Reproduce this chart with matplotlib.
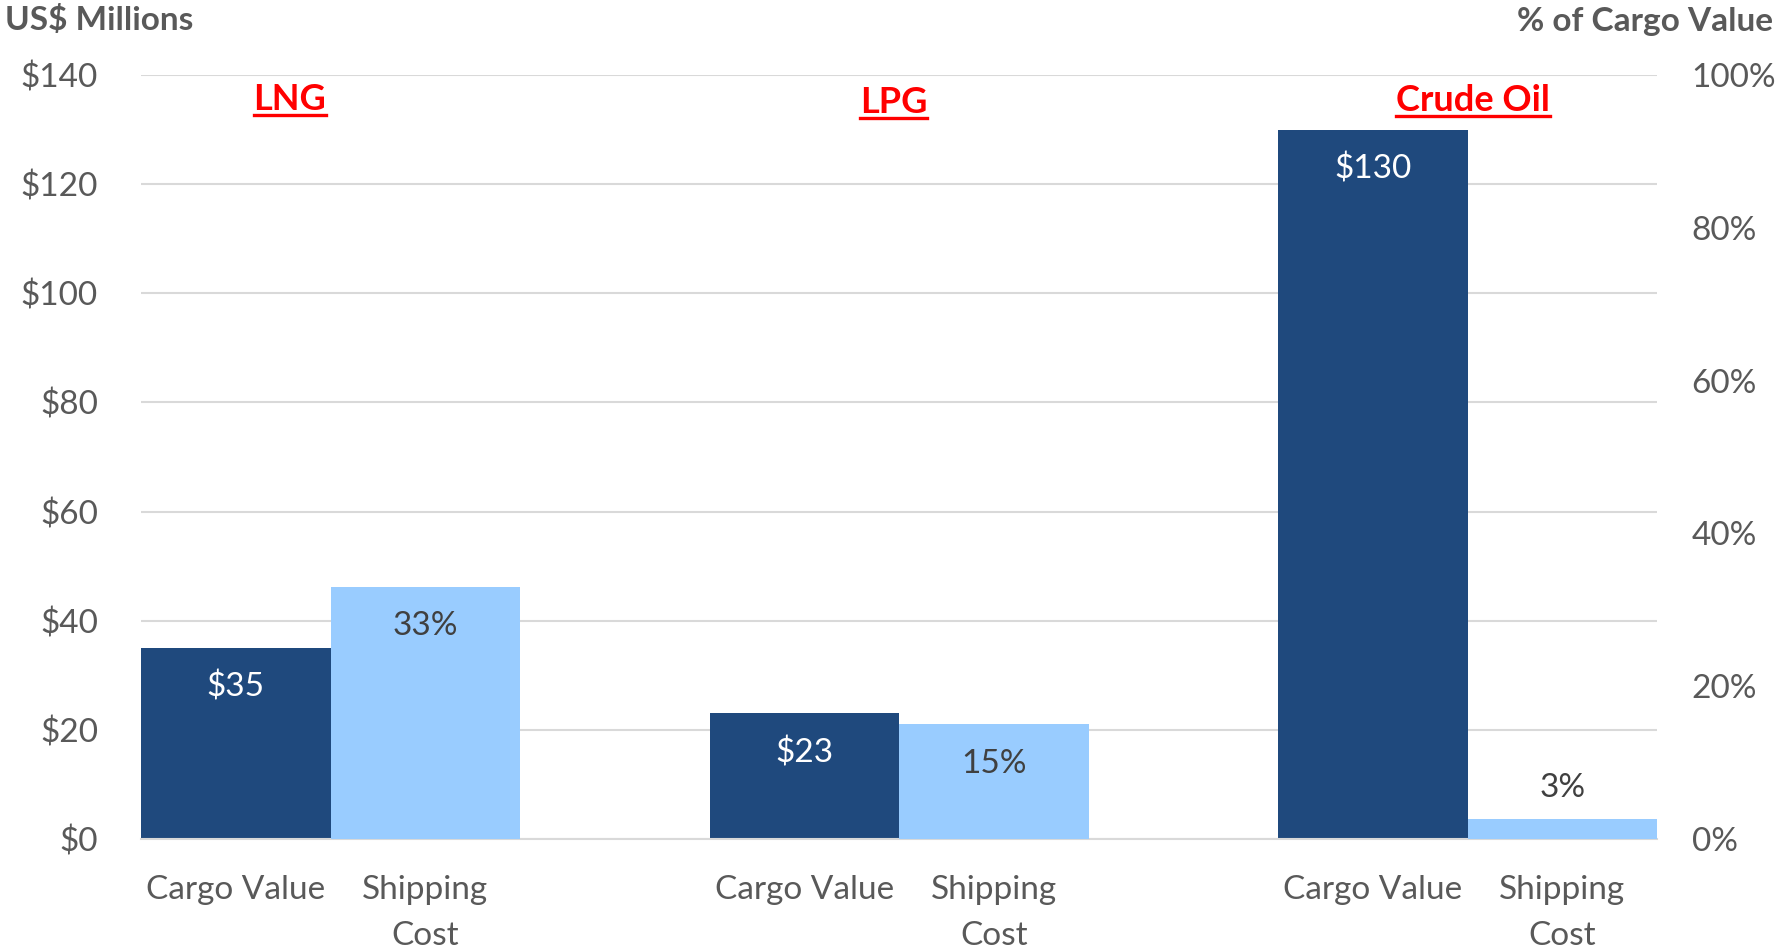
import matplotlib
matplotlib.use("Agg")
import matplotlib.pyplot as plt
from matplotlib.ticker import FuncFormatter

# ---- data ----
categories = ["Cargo Value", "Shipping\nCost", "", "Cargo Value", "Shipping\nCost", "",
              "Cargo Value", "Shipping\nCost"]
groups = ["LNG", "LPG", "Crude Oil"]
cargo_value = [35, 23, 130]          # US$ millions
shipping_pct = [33, 15, 2.6]         # % of cargo value
left_ticks = [0, 20, 40, 60, 80, 100, 120, 140]
right_ticks = [0, 20, 40, 60, 80, 100]

FONT = "Lato"
plt.rcParams['font.family'] = [FONT, 'DejaVu Sans']

DARK = "#1F497D"
LIGHT = "#99CCFF"
GRID = "#D9D9D9"
TXT = "#595959"

W, H = 1784, 949
fig = plt.figure(figsize=(W / 100, H / 100), dpi=100)
ax = fig.add_axes([141 / W, 1 - 839 / H, (1657 - 141) / W, (839 - 75) / H])
ax2 = ax.twinx()

cargo_x = [3 * i for i in range(len(groups))]
ship_x = [3 * i + 1 for i in range(len(groups))]

ax.bar(cargo_x, cargo_value, width=1.0, color=DARK, zorder=2)
ax2.bar(ship_x, shipping_pct, width=1.0, color=LIGHT, zorder=2)

ax.set_xlim(-0.5, len(categories) - 0.5)
ax.set_ylim(0, 140)
ax2.set_ylim(0, 100)
ax.set_yticks(left_ticks)
ax2.set_yticks(right_ticks)
ax.yaxis.set_major_formatter(FuncFormatter(lambda v, p: f"${v:.0f}"))
ax2.yaxis.set_major_formatter(FuncFormatter(lambda v, p: f"{v:.0f}%"))
ax.set_xticks(range(len(categories)))
ax.set_xticklabels(categories, linespacing=1.68)

ax.set_axisbelow(True)
ax.grid(axis='y', color=GRID, linewidth=1.5, zorder=0)
ax.grid(axis='x', visible=False)
for s in ['top', 'left', 'right']:
    ax.spines[s].set_visible(False)
    ax2.spines[s].set_visible(False)
ax2.spines['bottom'].set_visible(False)
ax.spines['bottom'].set_color(GRID)
ax.spines['bottom'].set_linewidth(1.5)

fs = 24
ax.tick_params(axis='y', length=0, pad=31, labelsize=fs, labelcolor=TXT)
ax.tick_params(axis='x', length=0, pad=26, labelsize=fs, labelcolor=TXT)
ax2.tick_params(axis='y', length=0, pad=25, labelsize=fs, labelcolor=TXT)

# data labels
for x, v in zip(cargo_x, cargo_value):
    ax.annotate(f"${v:.0f}", (x, v), xytext=(0, -35), textcoords='offset points',
                ha='center', va='baseline', color='white', fontsize=fs)
for x, v in zip(ship_x, shipping_pct):
    if v > 8:
        ax2.annotate(f"{v:.0f}%", (x, v), xytext=(0, -35), textcoords='offset points',
                     ha='center', va='baseline', color='#404040', fontsize=fs)
    else:
        ax2.annotate(f"{v:.0f}%", (x, v), xytext=(0, 16), textcoords='offset points',
                     ha='center', va='baseline', color='#404040', fontsize=fs)

# group titles (red, bold, underlined)
title_x = [0.286, 3.47, 6.53]
title_y = [133.6, 133.0, 133.4]
fig.canvas.draw()
inv = fig.transFigure.inverted()
for gx, gy, g in zip(title_x, title_y, groups):
    t = ax.text(gx, gy, g, ha='center', va='baseline', color='red',
                fontsize=26, fontweight='bold', zorder=5)
    bb = t.get_window_extent(renderer=fig.canvas.get_renderer())
    (fx0, _), (fx1, _) = inv.transform([(bb.x0, 0), (bb.x1, 0)])
    base_disp = ax.transData.transform((gx, gy))[1]
    fy = inv.transform((0, base_disp - 5))[1]
    fig.add_artist(plt.Line2D([fx0, fx1], [fy, fy], color='red', linewidth=2.4,
                              transform=fig.transFigure))

# axis titles
fig.text(5 / W, 1 - 30 / H, "US$ Millions", ha='left', va='baseline',
         fontsize=fs, fontweight='bold', color=TXT)
fig.text(1773 / W, 1 - 31 / H, "% of Cargo Value", ha='right', va='baseline',
         fontsize=fs, fontweight='bold', color=TXT)

fig.savefig("out.png", dpi=100)
